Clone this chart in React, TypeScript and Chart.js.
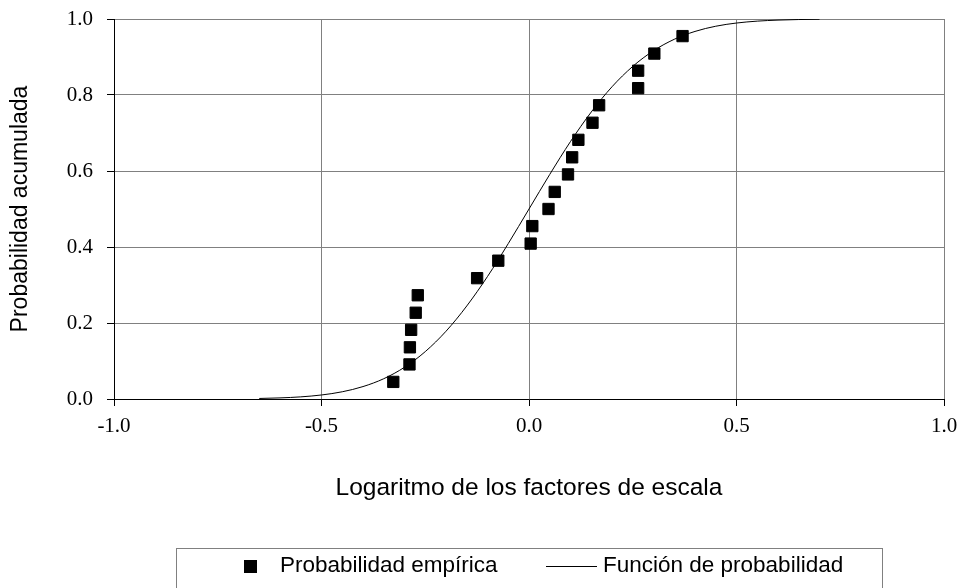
import React, { useEffect, useRef } from "react";
import { Chart, registerables } from "chart.js";

Chart.register(...registerables);

// Empirical cumulative probabilities of the log scale factors
const empiricalX = [
  -0.327, -0.288, -0.287, -0.284, -0.273, -0.268, -0.125, -0.074, 0.004, 0.008, 0.047,
  0.062, 0.094, 0.104, 0.119, 0.153, 0.169, 0.263, 0.263, 0.302, 0.37,
];
const empiricalY = [
  0.045, 0.091, 0.136, 0.182, 0.227, 0.273, 0.318, 0.364, 0.409, 0.455, 0.5,
  0.545, 0.591, 0.636, 0.682, 0.727, 0.773, 0.818, 0.864, 0.909, 0.955,
];

// Fitted cumulative distribution function
const curveX = [
  -0.65, -0.6, -0.55, -0.5, -0.45, -0.4, -0.35, -0.3, -0.25, -0.2, -0.15, -0.1, -0.05, 0,
  0.05, 0.1, 0.15, 0.2, 0.25, 0.3, 0.35, 0.4, 0.45, 0.5, 0.55, 0.6, 0.65, 0.7,
];
const curveY = [
  0.0014, 0.0029, 0.0056, 0.0106, 0.019, 0.0327, 0.0534, 0.0835, 0.1247, 0.1783, 0.2448,
  0.3224, 0.409, 0.5, 0.591, 0.6776, 0.7552, 0.8217, 0.8753, 0.9165, 0.9466, 0.9673,
  0.981, 0.9894, 0.9944, 0.9971, 0.9986, 0.9994,
];

const xTicks = [-1.0, -0.5, 0.0, 0.5, 1.0];
const yTicks = [0.0, 0.2, 0.4, 0.6, 0.8, 1.0];

const seriesLabels = ["Probabilidad empírica", "Función de probabilidad"];
const xTitle = "Logaritmo de los factores de escala";
const yTitle = "Probabilidad acumulada";

const SERIF = "'Times New Roman', 'Liberation Serif', serif";
const SANS = "Arial, 'Liberation Sans', sans-serif";

// Boxed legend drawn below the axis title
const boxedLegend = {
  id: "boxedLegend",
  afterDraw(chart: any) {
    const ctx = chart.ctx;
    const ds = chart.data.datasets;
    ctx.save();
    ctx.strokeStyle = "#808080";
    ctx.lineWidth = 1;
    ctx.strokeRect(176.5, 548.5, 706, 60);

    ctx.font = `22.5px ${SANS}`;
    ctx.fillStyle = "#000";
    ctx.textBaseline = "middle";
    ctx.textAlign = "left";
    const cy = 566;

    // marker series
    ctx.fillRect(244, cy - 6, 13, 13);
    ctx.fillText(ds[0].label, 280, cy);

    // line series
    ctx.beginPath();
    ctx.moveTo(546, cy + 0.5);
    ctx.lineTo(597, cy + 0.5);
    ctx.strokeStyle = "#000";
    ctx.stroke();
    ctx.fillText(ds[1].label, 603, cy);
    ctx.restore();
  },
};

// Keep the plot area exactly where the layout padding puts it
const noLabelOverflow = (scale: any) => {
  scale.paddingTop = 0;
  scale.paddingBottom = 0;
  scale.paddingLeft = 0;
  scale.paddingRight = 0;
};

export default function App() {
  const ref = useRef<HTMLCanvasElement>(null);

  useEffect(() => {
    document.body.style.margin = "0";
    const canvas = ref.current;
    if (!canvas) return;

    const chart = new Chart(canvas, {
      type: "scatter",
      data: {
        datasets: [
          {
            label: seriesLabels[0],
            data: empiricalX.map((x, i) => ({ x, y: empiricalY[i] })),
            pointStyle: "rect",
            pointRadius: 8,
            pointHoverRadius: 8,
            backgroundColor: "#000",
            borderColor: "#000",
            borderWidth: 1,
            showLine: false,
          },
          {
            label: seriesLabels[1],
            data: curveX.map((x, i) => ({ x, y: curveY[i] })),
            showLine: true,
            pointRadius: 0,
            borderColor: "#000",
            borderWidth: 1,
            cubicInterpolationMode: "monotone",
          },
        ],
      },
      options: {
        animation: false,
        responsive: false,
        maintainAspectRatio: false,
        layout: { padding: { left: 0, top: 19, right: 19, bottom: 79 } },
        plugins: {
          legend: { display: false },
          tooltip: { enabled: false },
        },
        scales: {
          x: {
            type: "linear",
            min: xTicks[0],
            max: xTicks[xTicks.length - 1],
            afterBuildTicks: (scale: any) => {
              scale.ticks = xTicks.map((v) => ({ value: v }));
            },
            afterFit: (scale: any) => {
              scale.height = 110;
              noLabelOverflow(scale);
            },
            ticks: {
              color: "#000",
              font: { family: SERIF, size: 21 },
              padding: 8,
              maxRotation: 0,
              callback: (v: any) => Number(v).toFixed(1),
            },
            grid: { color: "#808080", tickColor: "#000", tickLength: 7, lineWidth: 1 },
            border: { color: "#000", width: 1 },
            title: {
              display: true,
              text: xTitle,
              color: "#000",
              font: { family: SANS, size: 24.5 },
              padding: { top: 0, bottom: 6 },
            },
          },
          y: {
            type: "linear",
            min: yTicks[0],
            max: yTicks[yTicks.length - 1],
            afterBuildTicks: (scale: any) => {
              scale.ticks = yTicks.map((v) => ({ value: v }));
            },
            afterFit: (scale: any) => {
              scale.width = 114;
              noLabelOverflow(scale);
            },
            ticks: {
              color: "#000",
              font: { family: SERIF, size: 21 },
              padding: 14,
              callback: (v: any) => Number(v).toFixed(1),
            },
            grid: { color: "#808080", tickColor: "#000", tickLength: 7, lineWidth: 1 },
            border: { color: "#000", width: 1 },
            title: {
              display: true,
              text: yTitle,
              color: "#000",
              font: { family: SANS, size: 23 },
              padding: { top: 7, bottom: 0 },
            },
          },
        },
      },
      plugins: [boxedLegend],
    });

    return () => chart.destroy();
  }, []);

  return (
    <div style={{ width: 963, height: 588, background: "#fff" }}>
      <canvas ref={ref} width={963} height={588} style={{ display: "block" }} />
    </div>
  );
}
